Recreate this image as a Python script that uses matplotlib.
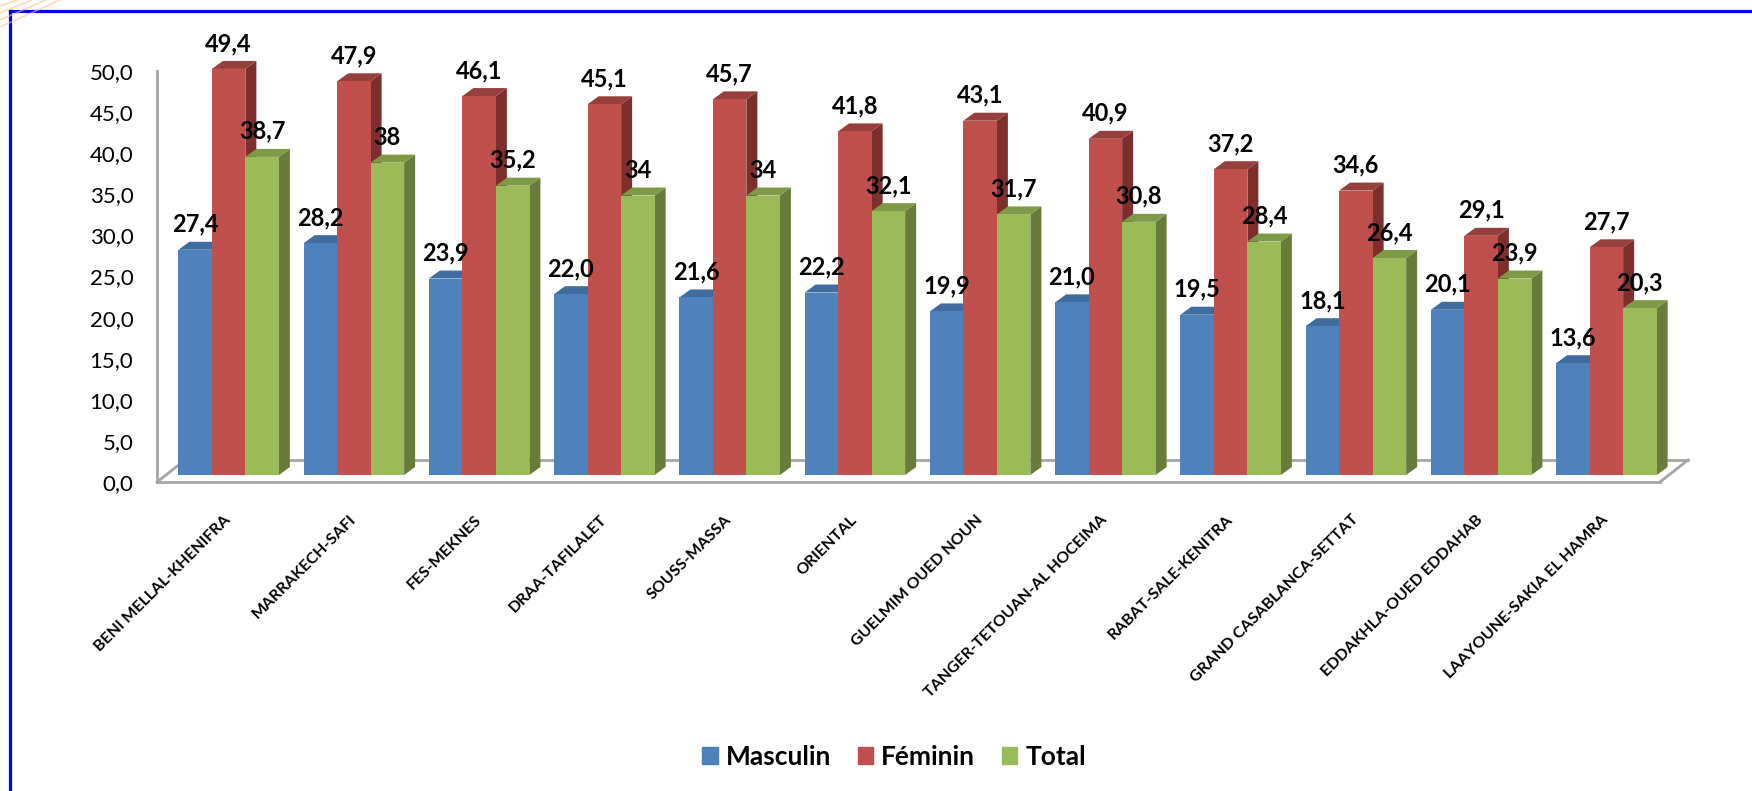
import numpy as np
import matplotlib
matplotlib.use("Agg")
import matplotlib.pyplot as plt
import matplotlib.transforms as mtransforms
from matplotlib.patches import Patch, Polygon
from matplotlib.lines import Line2D

plt.rcParams["font.family"] = ["Lato", "DejaVu Sans"]

# --- données ---------------------------------------------------------------
regions = ["BENI MELLAL-KHENIFRA", "MARRAKECH-SAFI", "FES-MEKNES",
           "DRAA-TAFILALET", "SOUSS-MASSA", "ORIENTAL", "GUELMIM OUED NOUN",
           "TANGER-TETOUAN-AL HOCEIMA", "RABAT-SALE-KENITRA",
           "GRAND CASABLANCA-SETTAT", "EDDAKHLA-OUED EDDAHAB",
           "LAAYOUNE-SAKIA EL HAMRA"]
masculin = [27.4, 28.2, 23.9, 22.0, 21.6, 22.2, 19.9, 21.0, 19.5, 18.1, 20.1, 13.6]
feminin = [49.4, 47.9, 46.1, 45.1, 45.7, 41.8, 43.1, 40.9, 37.2, 34.6, 29.1, 27.7]
total = [38.7, 38.0, 35.2, 34.0, 34.0, 32.1, 31.7, 30.8, 28.4, 26.4, 23.9, 20.3]
series_names = ["Masculin", "Féminin", "Total"]
y_ticks = np.arange(0, 51, 5)

# --- mise en page (pixels) -------------------------------------------------
W, H, DPI = 1752, 791, 100
ax_left, ax_right = 157, 1660
ax_bottom, ax_top = 482, 71          # y image de 0 et de 50
px_x = (ax_right - ax_left) / 12.0
px_y = (ax_bottom - ax_top) / 50.0

front = ["#4F81BD", "#C0504D", "#9BBB59"]
side = ["#3A6190", "#7D2F2D", "#677B3A"]
top = ["#416C9F", "#96403D", "#7E9A47"]

fig = plt.figure(figsize=(W / DPI, H / DPI), dpi=DPI)
ax = fig.add_axes([ax_left / W, (H - ax_bottom) / H,
                   (ax_right - ax_left) / W, (ax_bottom - ax_top) / H])
ax.set_xlim(-0.5, 11.5)
ax.set_ylim(0, 50)
ax.set_facecolor("none")
for s in ax.spines.values():
    s.set_visible(False)

# parois / sol en perspective
grey = "#A6A6A6"
back = mtransforms.ScaledTranslation(28 / DPI, 22 / DPI, fig.dpi_scale_trans)
back_tr = ax.transData + back
ax.plot([-0.5, 11.5], [0, 0], color=grey, lw=2, clip_on=False, zorder=1)
ax.plot([-0.5, 11.5], [0, 0], color=grey, lw=2, transform=back_tr,
        clip_on=False, zorder=1)
ax.plot([-0.5, -0.5], [0, 50], color=grey, lw=2, clip_on=False, zorder=1)
bdx, bdy = 28 / px_x, 22 / px_y
for xe in (-0.5, 11.5):
    ax.plot([xe, xe + bdx], [0, bdy], color=grey, lw=2, clip_on=False, zorder=1)

# barres 3D
bar_off = mtransforms.ScaledTranslation(9 / DPI, 7 / DPI, fig.dpi_scale_trans)
bar_tr = ax.transData + bar_off
w = 33.5 / px_x
ddx, ddy = 11 / px_x, 8 / px_y
x = np.arange(len(regions))

for k, vals in enumerate([masculin, feminin, total]):
    lefts = x - 1.5 * w + k * w
    for L, v in zip(lefts, vals):
        ax.add_patch(Polygon([(L + w, 0), (L + w + ddx, ddy),
                              (L + w + ddx, v + ddy), (L + w, v)],
                             closed=True, fc=side[k], ec="none",
                             transform=bar_tr, clip_on=False, zorder=2 + k))
        ax.add_patch(Polygon([(L, v), (L + ddx, v + ddy),
                              (L + w + ddx, v + ddy), (L + w, v)],
                             closed=True, fc=top[k], ec="none",
                             transform=bar_tr, clip_on=False, zorder=2 + k))
    ax.bar(lefts, vals, width=w, align="edge", color=front[k],
           edgecolor="none", transform=bar_tr, clip_on=False, zorder=2 + k)
    for L, v in zip(lefts, vals):
        txt = f"{v:g}" if k == 2 else f"{v:.1f}"
        ax.annotate(txt.replace(".", ","), xy=(L + w / 2, v), xycoords=bar_tr,
                    xytext=(0, 18), textcoords="offset pixels",
                    ha="center", va="baseline", fontsize=17,
                    fontweight="bold", color="black", zorder=10)

# axes
ax.set_yticks(y_ticks, labels=[f"{t:.1f}".replace(".", ",") for t in y_ticks])
ax.tick_params(axis="y", length=0, pad=17, labelsize=16)
ax.set_xticks(x, labels=regions, rotation=45, ha="right", va="top",
              rotation_mode="anchor", fontsize=11.5, fontweight="bold")
ax.tick_params(axis="x", length=0, pad=22)
shift = mtransforms.ScaledTranslation(4 / DPI, 0, fig.dpi_scale_trans)
for lbl in ax.get_xticklabels():
    lbl.set_transform(lbl.get_transform() + shift)

handles = [Patch(color=c, label=n) for c, n in zip(front, series_names)]
fig.legend(handles=handles, loc="center", bbox_to_anchor=(894 / W, 34 / H),
           ncol=3, frameon=False, prop={"weight": "bold", "size": 19},
           handlelength=0.6, handleheight=0.6, handletextpad=0.3,
           columnspacing=1.0)

# cadre bleu et traits décoratifs
fig.add_artist(Line2D([10 / W, 10 / W], [0, 1 - 11 / H], color="#0000FF",
                      lw=2.3, transform=fig.transFigure))
fig.add_artist(Line2D([10 / W, 1], [1 - 11 / H, 1 - 11 / H], color="#0000FF",
                      lw=2.3, transform=fig.transFigure))
for a, b in [(6, 18), (13, 32), (20, 46), (27, 60)]:
    fig.add_artist(Line2D([0, b / W], [1 - a / H, 1], color="#F7C58C",
                          lw=1.2, alpha=0.6, transform=fig.transFigure))

fig.savefig("out.png", dpi=DPI)
